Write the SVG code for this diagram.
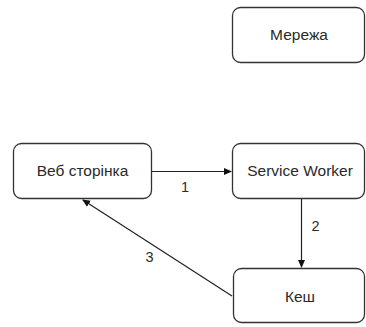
<svg xmlns="http://www.w3.org/2000/svg" width="366" height="327" viewBox="0 0 366 327">
<style>
.box{fill:#fff;stroke:#333;stroke-width:1.3}
.t{font-family:"Liberation Sans",Arial,sans-serif;font-size:15.5px;fill:#2a2a2a;text-anchor:middle;dominant-baseline:central}
.n{font-size:14.5px}
.e{stroke:#222;stroke-width:1.2;fill:none;marker-end:url(#ah)}
</style>
<defs>
<marker id="ah" markerWidth="8" markerHeight="8" refX="7" refY="4" orient="auto" markerUnits="userSpaceOnUse">
<path d="M0,0.5 L8,4 L0,7.5 Z" fill="#111"/>
</marker>
</defs>
<rect width="366" height="327" fill="#fff"/>
<g id="net"><rect class="box" x="232.5" y="7.5" width="132" height="55" rx="8"/><text class="t" x="299" y="34">Мережа</text></g>
<g id="web"><rect class="box" x="13.5" y="143.5" width="138" height="55" rx="8"/><text class="t" x="82.5" y="170">Веб сторінка</text></g>
<g id="sw"><rect class="box" x="232.5" y="143.5" width="132" height="55" rx="8"/><text class="t" x="300" y="170">Service Worker</text></g>
<g id="cache"><rect class="box" x="233.5" y="268.5" width="131" height="54" rx="8"/><text class="t" x="300" y="296">Кеш</text></g>
<g id="edges">
<line class="e" x1="152" y1="171.5" x2="231" y2="171.5"/>
<line class="e" x1="301.5" y1="199" x2="301.5" y2="267"/>
<line class="e" x1="232" y1="296" x2="83" y2="200"/>
<text class="t n" x="185" y="186.5">1</text>
<text class="t n" x="315.5" y="225.5">2</text>
<text class="t n" x="149.5" y="256.5">3</text>
</g>
</svg>
